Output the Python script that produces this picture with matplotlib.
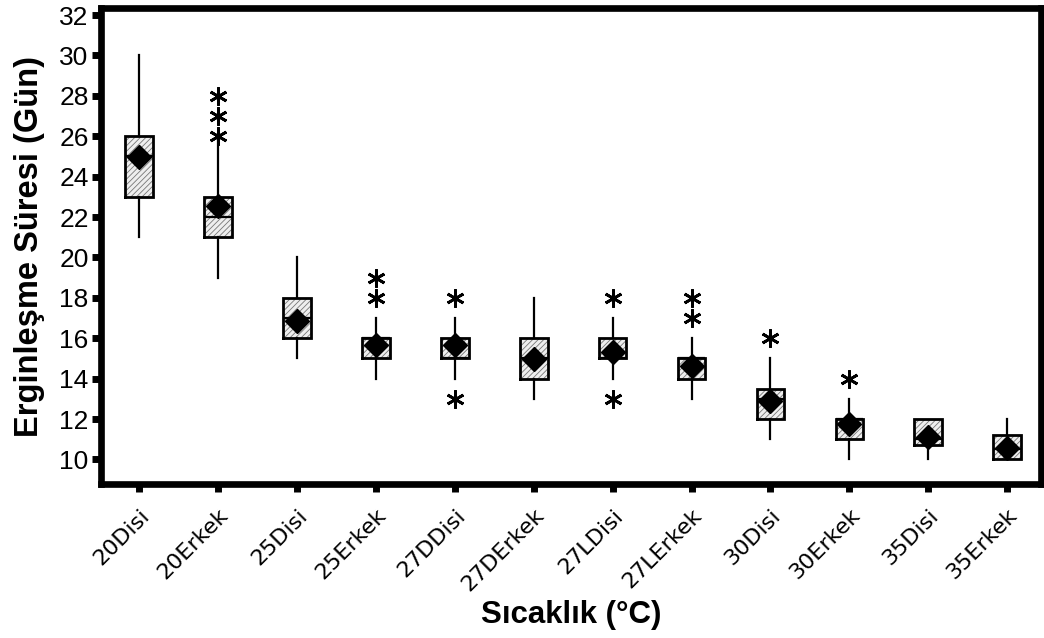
import matplotlib
matplotlib.use("Agg")
import matplotlib.pyplot as plt

# Emergence time by temperature and sex
categories = ['20Disi', '20Erkek', '25Disi', '25Erkek', '27DDisi', '27DErkek',
              '27LDisi', '27LErkek', '30Disi', '30Erkek', '35Disi', '35Erkek']
whislo = [21, 19, 15, 14, 14, 13, 14, 13, 11, 10, 10, 10]
q1 = [23, 21, 16, 15, 15, 14, 15, 14, 12, 11, 10.7, 10]
medians = [25, 22, 17, 16, 15, 15, 15, 15, 13, 12, 11, 10.5]
q3 = [26, 23, 18, 16, 16, 16, 16, 15, 13.5, 12, 12, 11.2]
whishi = [30, 26, 20, 17, 17, 18, 17, 16, 15, 13, 12, 12]
means = [24.95, 22.55, 16.85, 15.65, 15.67, 14.97, 15.3, 14.65, 12.88, 11.75, 11.1, 10.58]
outliers = [[], [26, 27, 28], [], [18, 19], [13, 18], [], [13, 18], [17, 18],
            [16], [14], [], []]
yticks = [10, 12, 14, 16, 18, 20, 22, 24, 26, 28, 30, 32]

plt.rcParams['hatch.linewidth'] = 0.6
plt.rcParams['font.family'] = ['Liberation Sans', 'DejaVu Sans']

fig = plt.figure(figsize=(10.44, 6.38), dpi=100)
ax = fig.add_axes([0.0963, 0.2406, 0.9009, 0.7476])

stats = []
for lab, lo, a, m, b, hi, mu, fl in zip(categories, whislo, q1, medians, q3,
                                        whishi, means, outliers):
    stats.append(dict(label=lab, whislo=lo, q1=a, med=m, q3=b, whishi=hi,
                      mean=mu, fliers=fl))

positions = list(range(len(categories)))
bp = ax.bxp(stats, positions=positions, widths=0.35, patch_artist=True,
            showmeans=True, showcaps=False,
            boxprops=dict(facecolor='#eeeeee', edgecolor='#777777',
                          hatch='//////', linewidth=0),
            medianprops=dict(color='black', linewidth=1.6),
            whiskerprops=dict(color='black', linewidth=1.6),
            meanprops=dict(marker='D', markerfacecolor='black',
                           markeredgecolor='black', markersize=12, zorder=5),
            flierprops=dict(marker=(6, 2, 0), markersize=13,
                            markeredgecolor='black', markeredgewidth=2.0,
                            linestyle='none'))

# black outlines drawn over the hatched fill
for box in bp['boxes']:
    verts = box.get_path().vertices
    ax.plot(verts[:, 0], verts[:, 1], color='black', linewidth=2.0, zorder=3,
            solid_joinstyle='miter')

ax.set_xlim(-0.49, 11.43)
ax.set_ylim(8.76, 32.37)
ax.set_yticks(yticks)
ax.set_yticklabels([str(v) for v in yticks], fontsize=19)
ax.set_xticks(positions)
ax.set_xticklabels(categories, rotation=45, ha='right', va='top',
                   rotation_mode='anchor', fontsize=16, family='DejaVu Sans')

for s in ax.spines.values():
    s.set_linewidth(4.8)
    s.set_color('black')
ax.tick_params(axis='both', direction='out', width=5, color='black')
ax.tick_params(axis='y', length=6.5, pad=2)
ax.tick_params(axis='x', length=6, pad=9)

ax.set_ylabel('Erginleşme Süresi (Gün)', fontsize=23.5, fontweight='bold',
              labelpad=10)
ax.set_xlabel('Sıcaklık (°C)', fontsize=22.5, fontweight='bold')
ax.xaxis.set_label_coords(0.5, -0.242)

fig.savefig('out.png', dpi=100)
